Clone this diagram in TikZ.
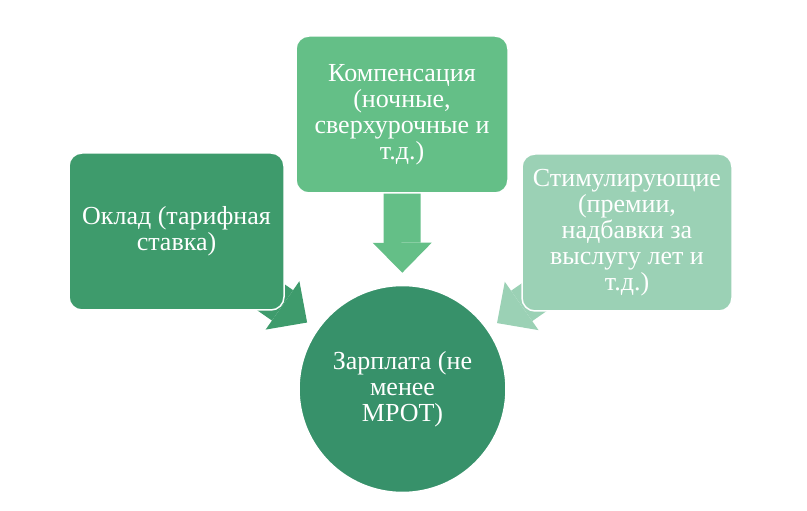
\documentclass[tikz,border=0pt]{standalone}
\usepackage{fontspec}
\setmainfont{Liberation Serif}
\newfontfamily\boxfont{Liberation Serif}
\usetikzlibrary{arrows.meta,backgrounds}
\definecolor{okladcol}{RGB}{62,155,108}
\definecolor{kompcol}{RGB}{100,191,135}
\definecolor{stimcol}{RGB}{155,209,181}
\definecolor{zpcol}{RGB}{55,145,106}
\begin{document}
\begin{tikzpicture}[x=1pt,y=1pt,font=\boxfont\fontsize{26}{26}\selectfont,
	box/.style={draw=white,line width=1.5pt,rounded corners=13pt,minimum width=215pt,minimum height=157pt,align=center,text=white,inner sep=2pt},
	bigarrow/.style={line width=37pt,line cap=butt,-{Triangle[length=30pt,width=59pt,line width=0pt]}}]
	\useasboundingbox (0,0) rectangle (807,511);
	\node[box,fill=okladcol] (oklad) at (176.5,279.5) {Оклад (тарифная\\ставка)};
	\node[box,fill=kompcol,minimum width=212pt] (komp) at (402,396.5) {Компенсация\\(ночные,\\сверхурочные и\\т.д.)};
	\node[box,fill=stimcol,minimum width=210pt] (stim) at (627,278.5) {Стимулирующие\\(премии,\\надбавки за\\выслугу лет и\\т.д.)};
	\node[circle,draw=white,line width=1.5pt,fill=zpcol,text=white,minimum size=207pt,align=center] (zp) at (402.5,122) {Зарплата (не\\менее\\МРОТ)};
	% arrows behind the boxes
	\begin{scope}[on background layer]
		\draw[bigarrow,okladcol,shorten >=12pt] (oklad.center) -- (zp);
		\draw[bigarrow,kompcol,shorten >=12pt] (komp.center) -- (zp);
		\draw[bigarrow,stimcol,shorten >=11pt] (stim.center) -- (zp);
	\end{scope}
\end{tikzpicture}
\end{document}
